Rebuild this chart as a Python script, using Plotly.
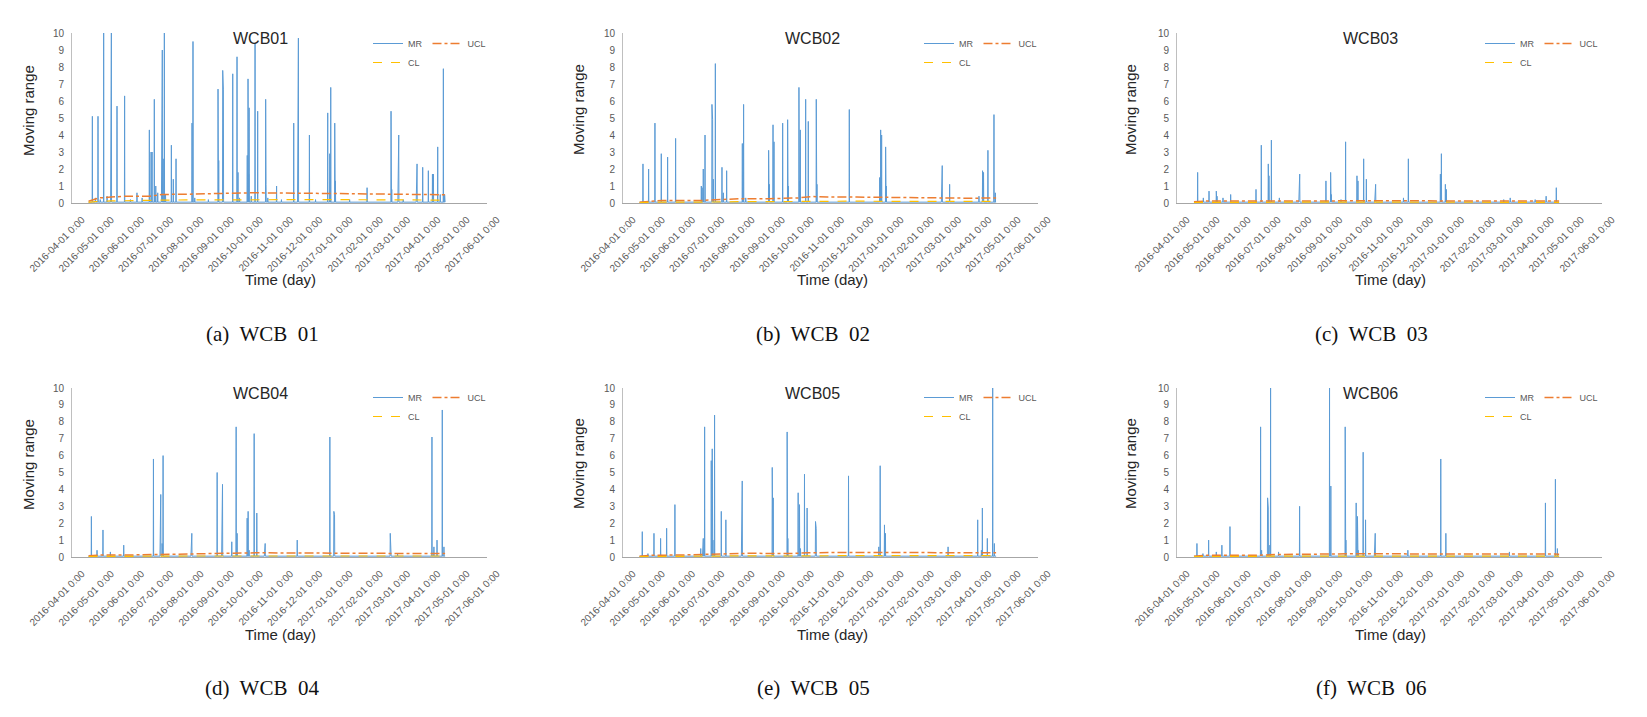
import plotly.graph_objects as go
import pandas as pd

# ---------------- data ----------------
START = "2016-04-01"
MONTHS = ["2016-04-01", "2016-05-01", "2016-06-01", "2016-07-01", "2016-08-01",
          "2016-09-01", "2016-10-01", "2016-11-01", "2016-12-01", "2017-01-01",
          "2017-02-01", "2017-03-01", "2017-04-01", "2017-05-01", "2017-06-01"]
TICK_TEXT = [m + " 0:00" for m in MONTHS]

TITLES = ["WCB01", "WCB02", "WCB03", "WCB04", "WCB05", "WCB06"]
CAPTIONS = ["(a)\u00a0 WCB\u00a0 01", "(b)\u00a0 WCB\u00a0 02", "(c)\u00a0 WCB\u00a0 03",
            "(d)\u00a0 WCB\u00a0 04", "(e)\u00a0 WCB\u00a0 05", "(f)\u00a0 WCB\u00a0 06"]

# data span (days after START) and MR baseline level
DATA_FIRST_DAY = 17
DATA_LAST_DAY = 383
MR_BASE = 0.05

# MR peaks: (day after 2016-04-01, moving range)
MR_A = [(20.9, 5.1), (24, 0.3), (26.7, 5.1), (29, 0.2), (32.5, 10), (36, 0.4), (39.8, 4.3), (40.4, 10),
        (46.2, 5.7), (54.0, 6.3), (60, 0.2), (66.7, 0.6), (72, 0.3), (79.4, 4.3), (81.2, 3.0),
        (82.2, 3.0), (84.5, 6.1), (86, 1.0), (88, 0.6), (92.0, 8.2), (92.7, 9.0), (93.6, 2.6),
        (94.8, 10), (96, 0.5), (102.0, 3.4), (104.0, 1.4), (106.8, 2.6), (123.2, 4.7), (124.2, 9.5),
        (126, 0.3), (140, 0.2), (149.9, 6.7), (150.6, 2.5), (154.7, 7.8), (155.4, 6.7), (165.0, 7.6),
        (169.4, 8.6), (170.4, 1.8), (172, 0.3), (179.9, 2.8), (180.7, 7.3), (181.4, 1.7), (181.8, 5.6),
        (184, 0.4), (187.9, 9.4), (190.6, 5.4), (198.8, 6.1), (199.2, 1.1), (201, 0.3), (210.0, 1.0),
        (215, 0.2), (227.6, 4.7), (231.7, 9.7), (232.4, 9.7), (243.7, 4.0), (250, 0.2), (262.5, 5.3),
        (264.6, 2.9), (265.6, 6.8), (269.7, 4.7), (270.4, 1.3), (285, 0.2), (302.9, 0.9), (327.5, 5.4),
        (328.2, 0.8), (334.7, 4.0), (335.4, 4.0), (340, 0.2), (353.5, 2.3), (354.2, 2.3), (360.0, 2.1),
        (365.8, 1.9), (370.0, 1.7), (371.0, 1.7), (375.4, 3.3), (378, 0.5), (381.2, 7.9), (382.5, 0.5)]
MR_B = [(20.5, 2.3), (26.3, 2.0), (32.8, 4.7), (39.3, 2.9), (45.8, 2.7), (54.0, 3.8), (80.4, 1.0),
        (81.2, 0.9), (82.4, 2.0), (84.2, 4.0), (91.3, 5.8), (92.0, 4.9), (92.7, 1.4), (94.8, 8.2),
        (101.6, 2.1), (103.0, 0.6), (106.4, 1.9), (122.5, 3.5), (123.8, 5.8), (126, 0.3), (149.5, 3.1),
        (150.2, 1.1), (154.0, 4.6), (155.0, 3.6), (163.9, 4.7), (169.0, 4.9), (169.7, 1.0),
        (180.6, 6.8), (181.3, 1.3), (182.0, 4.3), (187.5, 6.1), (190.2, 4.8), (198.4, 6.1),
        (199.1, 1.1), (232.3, 5.5), (263.5, 1.5), (264.5, 4.3), (265.5, 4.0), (269.6, 3.3),
        (270.3, 1.0), (327.0, 2.0), (327.7, 2.2), (335.3, 1.1), (365.4, 0.4), (369.1, 1.9),
        (370.1, 1.8), (374.6, 3.1), (380.8, 5.2), (382.2, 0.6)]
MR_C = [(20.7, 1.8), (26.4, 0.3), (32.1, 0.7), (39.4, 0.7), (40.1, 0.4), (46.1, 0.3), (53.8, 0.5),
        (79.2, 0.8), (84.5, 3.4), (91.5, 2.3), (92.2, 1.6), (94.6, 3.7), (102.6, 0.3), (122.3, 0.5),
        (123.0, 1.7), (149.3, 1.3), (154.0, 1.8), (154.7, 0.5), (164.4, 0.2), (169.0, 3.6),
        (180.4, 1.6), (181.4, 1.3), (187.1, 2.6), (189.8, 1.4), (198.4, 0.8), (199.1, 1.1),
        (227.0, 0.3), (231.9, 2.6), (264.0, 1.7), (265.0, 2.9), (269.0, 1.1), (270.0, 0.8),
        (327.5, 0.2), (334.0, 0.3), (359.0, 0.2), (370.0, 0.4), (380.2, 0.9)]
MR_D = [(19.9, 2.4), (25.7, 0.4), (31.8, 1.6), (39.4, 0.3), (53.1, 0.7), (83.6, 5.8), (90.5, 3.2),
        (91.1, 3.7), (92.5, 0.8), (93.5, 6.0), (122.3, 0.9), (123.0, 1.4), (149.0, 5.0),
        (153.8, 4.3), (154.5, 4.3), (164.0, 0.9), (168.5, 7.7), (169.5, 1.4), (179.8, 2.3),
        (180.8, 2.7), (181.8, 0.4), (187.0, 7.3), (189.7, 2.6), (197.6, 0.6), (198.3, 0.8),
        (231.2, 1.0), (264.7, 7.1), (268.8, 2.7), (269.5, 2.5), (326.7, 1.4), (327.4, 0.8),
        (334.2, 0.2), (369.5, 7.1), (371.5, 0.6), (374.7, 1.0), (380.1, 8.7), (381.8, 0.6)]
MR_E = [(19.8, 1.5), (25.6, 0.2), (31.8, 1.4), (38.6, 1.1), (44.8, 1.7), (53.3, 3.1), (79.8, 0.5),
        (81.8, 0.8), (82.4, 1.1), (83.8, 7.7), (90.6, 5.7), (91.6, 6.4), (92.3, 1.0), (94.0, 8.4),
        (100.9, 2.7), (105.6, 2.2), (121.7, 1.1), (122.4, 4.5), (153.2, 5.3), (154.2, 3.5),
        (168.5, 7.4), (169.2, 1.1), (179.8, 3.8), (181.2, 3.1), (182.2, 0.5), (186.3, 4.9),
        (189.0, 2.9), (197.6, 2.1), (198.3, 1.7), (231.5, 4.8), (262.6, 0.6), (264.0, 5.4),
        (268.4, 1.9), (269.4, 1.4), (333.7, 0.6), (364.1, 2.2), (367.9, 0.4), (368.9, 2.9),
        (374.0, 1.1), (379.5, 10.0), (381.2, 0.8)]
MR_F = [(20.0, 0.8), (26.0, 0.2), (31.7, 1.0), (39.4, 0.3), (45.0, 0.7), (53.1, 1.8), (83.8, 7.7),
        (84.8, 0.4), (90.8, 3.5), (91.5, 2.9), (93.1, 0.7), (93.8, 10.0), (101.8, 0.3), (122.9, 3.0),
        (152.9, 10.0), (154.2, 4.2), (168.6, 7.7), (169.3, 1.0), (179.6, 3.2), (180.9, 2.4),
        (181.6, 0.4), (186.6, 6.2), (189.0, 2.2), (198.0, 1.1), (198.7, 1.4), (231.4, 0.4),
        (264.4, 5.8), (269.5, 1.4), (333.2, 0.3), (369.3, 3.2), (379.3, 4.6), (381.3, 0.5)]

# control limits: (day after 2016-04-01, value)
UCL_A = [(17, 0.1), (22, 0.2), (28, 0.3), (40, 0.35), (55, 0.4), (80, 0.4), (92, 0.5), (120, 0.52),
         (150, 0.55), (175, 0.58), (185, 0.6), (230, 0.58), (260, 0.57), (300, 0.55), (330, 0.52),
         (360, 0.5), (383, 0.48)]
CL_A = [(17, 0.04), (22, 0.07), (28, 0.1), (40, 0.12), (55, 0.14), (80, 0.14), (92, 0.17),
        (120, 0.18), (150, 0.19), (175, 0.2), (185, 0.21), (230, 0.2), (260, 0.2), (300, 0.19),
        (330, 0.18), (360, 0.17), (383, 0.17)]
UCL_B = [(17, 0.05), (25, 0.1), (40, 0.15), (80, 0.15), (95, 0.2), (120, 0.25), (150, 0.25),
         (180, 0.3), (195, 0.38), (210, 0.35), (240, 0.35), (270, 0.33), (300, 0.3), (330, 0.3),
         (360, 0.28), (383, 0.3)]
CL_B = [(17, 0.02), (25, 0.04), (40, 0.05), (80, 0.05), (95, 0.07), (120, 0.08), (150, 0.08),
        (180, 0.1), (195, 0.12), (210, 0.11), (240, 0.11), (270, 0.1), (300, 0.1), (330, 0.1),
        (360, 0.09), (383, 0.1)]
UCL_C = [(17, 0.08), (30, 0.12), (80, 0.12), (120, 0.13), (160, 0.14), (200, 0.15), (240, 0.13),
         (280, 0.12), (330, 0.12), (383, 0.12)]
CL_C = [(17, 0.03), (30, 0.04), (80, 0.04), (120, 0.05), (160, 0.05), (200, 0.05), (240, 0.04),
        (280, 0.04), (330, 0.04), (383, 0.04)]
UCL_D = [(17, 0.08), (30, 0.12), (60, 0.12), (90, 0.15), (120, 0.2), (160, 0.2), (190, 0.25),
         (220, 0.24), (260, 0.22), (300, 0.22), (340, 0.22), (383, 0.2)]
CL_D = [(17, 0.03), (30, 0.04), (60, 0.04), (90, 0.05), (120, 0.06), (160, 0.06), (190, 0.08),
        (220, 0.07), (260, 0.07), (300, 0.07), (340, 0.07), (383, 0.06)]
UCL_E = [(17, 0.05), (30, 0.1), (60, 0.12), (90, 0.15), (110, 0.2), (130, 0.22), (170, 0.2),
         (190, 0.25), (230, 0.27), (270, 0.27), (320, 0.25), (383, 0.25)]
CL_E = [(17, 0.02), (30, 0.03), (60, 0.04), (90, 0.05), (110, 0.06), (130, 0.07), (170, 0.06),
        (190, 0.08), (230, 0.08), (270, 0.08), (320, 0.08), (383, 0.08)]
UCL_F = [(17, 0.05), (30, 0.1), (80, 0.1), (100, 0.15), (140, 0.17), (190, 0.2), (240, 0.18),
         (290, 0.18), (340, 0.17), (383, 0.17)]
CL_F = [(17, 0.02), (30, 0.03), (80, 0.03), (100, 0.05), (140, 0.05), (190, 0.06), (240, 0.06),
        (290, 0.06), (340, 0.05), (383, 0.05)]

MR_ALL = [MR_A, MR_B, MR_C, MR_D, MR_E, MR_F]
UCL_ALL = [UCL_A, UCL_B, UCL_C, UCL_D, UCL_E, UCL_F]
CL_ALL = [CL_A, CL_B, CL_C, CL_D, CL_E, CL_F]

# ---------------- layout geometry (pixels) ----------------
W, H = 1647, 717
X_PX = [(72, 487), (623, 1038), (1177, 1602)]
Y_PX = [(33, 203), (388, 557)]
TITLE_X = [260, 812, 1370]
TITLE_Y = [39, 393]
YT_X = [28, 578, 1130]
YT_Y = [110, 464]
XT_X = [280, 832, 1390]
XT_Y = [279, 634]
CAP_X = [262, 813, 1371]
CAP_Y = [334, 688]
LEG_X = [368, 919, 1480]
LEG_Y = [29, 383]

MR_COLOR = "#5B9BD5"
UCL_COLOR = "#ED7D31"
CL_COLOR = "#FFC000"
FONT = "Liberation Sans, Arial, sans-serif"
start = pd.Timestamp(START)


def to_dates(days):
    return [start + pd.Timedelta(days=float(d)) for d in days]


def mr_points(peaks):
    pts = [(DATA_FIRST_DAY, MR_BASE), (DATA_LAST_DAY, MR_BASE)]
    for d, v in peaks:
        pts += [(d - 0.2, MR_BASE), (d, v), (d + 0.2, MR_BASE)]
    pts.sort(key=lambda p: p[0])
    return [p[0] for p in pts], [p[1] for p in pts]


def note(text, px, py, size, color, family=FONT, angle=0):
    return dict(text=text, x=px / W, y=1 - py / H, xref="paper", yref="paper",
                xanchor="center", yanchor="middle", showarrow=False, textangle=angle,
                font=dict(size=size, color=color, family=family))


fig = go.Figure()
annotations = []
layout = dict(width=W, height=H, margin=dict(l=0, r=0, t=0, b=0, autoexpand=False),
              paper_bgcolor="white", plot_bgcolor="white", showlegend=True,
              font=dict(family=FONT, color="#595959"))

for i in range(6):
    r, c = divmod(i, 3)
    k = i + 1
    xa = "x" if k == 1 else f"x{k}"
    ya = "y" if k == 1 else f"y{k}"
    leg = "legend" if k == 1 else f"legend{k}"
    x0, x1 = X_PX[c]
    yt, yb = Y_PX[r]
    layout["xaxis" if k == 1 else f"xaxis{k}"] = dict(
        domain=[x0 / W, x1 / W], anchor=ya, type="date", automargin=False,
        range=[MONTHS[0], MONTHS[-1]], tickvals=MONTHS, ticktext=TICK_TEXT,
        tickangle=-45, tickfont=dict(size=10, color="#595959", family=FONT),
        ticklabelshift=10, ticklabelstandoff=6,
        showgrid=False, zeroline=False, showline=True, linecolor="#A6A6A6",
        linewidth=1, ticks="")
    layout["yaxis" if k == 1 else f"yaxis{k}"] = dict(
        domain=[1 - yb / H, 1 - yt / H], anchor=xa, range=[0, 10], dtick=1,
        automargin=False,
        tickfont=dict(size=10, color="#595959", family=FONT), showgrid=False,
        zeroline=False, showline=True, linecolor="#BFBFBF", linewidth=1, ticks="",
        ticklabelstandoff=5)
    layout[leg] = dict(
        x=LEG_X[c] / W, y=1 - LEG_Y[r] / H, xanchor="left", yanchor="top",
        orientation="h", traceorder="grouped", bgcolor="rgba(0,0,0,0)",
        font=dict(size=9, color="#595959", family=FONT), itemwidth=30,
        tracegroupgap=0)

    mx, my = mr_points(MR_ALL[i])
    fig.add_trace(go.Scatter(x=to_dates(mx), y=my, mode="lines", name="MR",
                             line=dict(color=MR_COLOR, width=1), xaxis=xa, yaxis=ya,
                             legend=leg, legendgroup=f"g{k}a"))
    ud = UCL_ALL[i]
    fig.add_trace(go.Scatter(x=to_dates([p[0] for p in ud]), y=[p[1] for p in ud],
                             mode="lines", name="UCL", line=dict(color=UCL_COLOR, width=1.5,
                                                                  dash="dashdot"),
                             xaxis=xa, yaxis=ya, legend=leg, legendgroup=f"g{k}b"))
    cd = CL_ALL[i]
    fig.add_trace(go.Scatter(x=to_dates([p[0] for p in cd]), y=[p[1] for p in cd],
                             mode="lines", name="CL", line=dict(color=CL_COLOR, width=1.2,
                                                                 dash="dash"),
                             xaxis=xa, yaxis=ya, legend=leg, legendgroup=f"g{k}a"))

    annotations.append(note(TITLES[i], TITLE_X[c], TITLE_Y[r], 16, "#262626"))
    annotations.append(note("Moving range", YT_X[c], YT_Y[r], 15, "#262626", angle=-90))
    annotations.append(note("Time (day)", XT_X[c], XT_Y[r], 15, "#262626"))
    annotations.append(note(CAPTIONS[i], CAP_X[c], CAP_Y[r], 21, "#111111",
                            family="Liberation Serif, DejaVu Serif, serif"))

layout["annotations"] = annotations
fig.update_layout(**layout)
fig.write_html("out.html")
